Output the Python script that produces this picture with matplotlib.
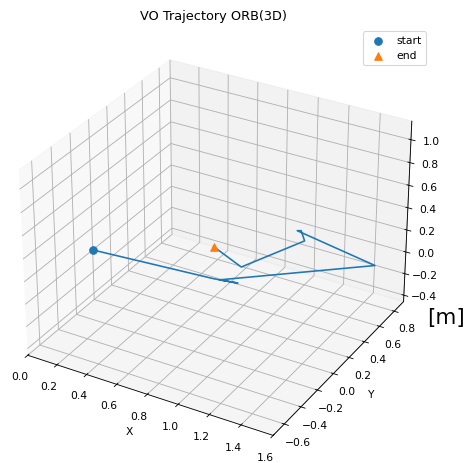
import numpy as np
import matplotlib
matplotlib.use('Agg')
import matplotlib.pyplot as plt

# ---- data (trajectory in metres) ----
traj_x = [0.000, 0.876, 1.014, 0.906, 1.595, 1.021, 1.041, 1.115, 0.943, 0.691]
traj_y = [0.000, -0.092, -0.065, -0.087, 0.516, 0.651, 0.663, 0.564, 0.105, 0.231]
traj_z = [0.000, 0.150, 0.150, 0.150, 0.150, 0.150, 0.150, 0.150, 0.150, 0.150]

x_limits = (0.0, 1.6)
y_limits = (-0.73, 0.93)
z_limits = (-0.46, 1.16)

title = "VO Trajectory ORB(3D)"

DPI = 77
fig = plt.figure(figsize=(466 / DPI, 463 / DPI), dpi=DPI)
ax = fig.add_axes([-0.0114, 0.0, 0.9378, 0.9438], projection='3d')

ax.plot(traj_x, traj_y, traj_z, color='C0')
ax.scatter([traj_x[0]], [traj_y[0]], [traj_z[0]], color='C0', marker='o', s=50,
           label='start', depthshade=False)
ax.scatter([traj_x[-1]], [traj_y[-1]], [traj_z[-1]], color='C1', marker='^', s=50,
           label='end', depthshade=False)

ax.set_xlim(x_limits)
ax.set_ylim(y_limits)
ax.set_zlim(z_limits)
ax.set_xticks(np.arange(0.0, 1.61, 0.2))
ax.set_yticks(np.arange(-0.6, 0.81, 0.2))
ax.set_zticks(np.arange(-0.4, 1.01, 0.2))

ax.set_xlabel('X')
ax.set_ylabel('Y')
ax.set_title(title)
ax.legend(loc='upper right')

fig.text(446 / 466, 1 - 318 / 463, '[m]', fontsize=20, ha='center', va='center')

fig.savefig('out.png', dpi=DPI)
